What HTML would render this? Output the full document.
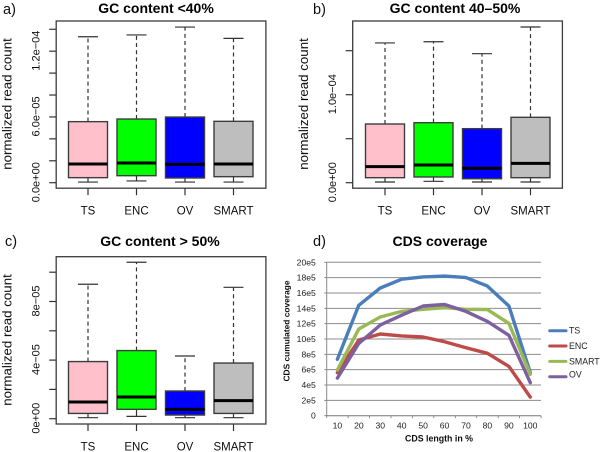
<!DOCTYPE html>
<html lang="en">
<head>
<meta charset="utf-8">
<title>Coverage charts</title>
<style>
html,body{margin:0;padding:0;background:#fff;width:600px;height:452px;overflow:hidden}
svg{display:block;font-family:"Liberation Sans",sans-serif}
</style>
</head>
<body>
<svg id="fig" xmlns="http://www.w3.org/2000/svg" width="600" height="452" viewBox="0 0 600 452">
<defs><filter id="soft" x="0" y="0" width="100%" height="100%"><feGaussianBlur stdDeviation="0.3"/></filter></defs>
</svg>
<script>
// Box-plot data, in units of 1e-5: [lower whisker, Q1, median, Q3, upper whisker]
const categories = ['TS', 'ENC', 'OV', 'SMART'];
const boxColors = ['#ffc0cb', '#00ff00', '#0000ff', '#bebebe'];
const panelAStats = [[0.06, 0.46, 1.71, 5.57, 13.32], [0.16, 0.64, 1.80, 5.81, 13.48], [0.06, 0.43, 1.68, 5.99, 14.20], [0.06, 0.55, 1.71, 5.60, 13.17]];
const panelBStats = [[0.08, 0.57, 1.82, 6.67, 15.88], [0.16, 0.65, 2.01, 6.82, 16.02], [0.08, 0.45, 1.64, 6.14, 14.66], [0.08, 0.57, 2.20, 7.43, 17.69]];
const panelCStats = [[0.07, 0.36, 1.14, 3.90, 9.18], [0.16, 0.64, 1.48, 4.65, 10.68], [0.07, 0.25, 0.64, 1.89, 4.28], [0.07, 0.36, 1.23, 3.80, 8.97]];
const panelATicks = [0, 2, 4, 6, 8, 10, 12, 14];
const panelATickLabels = ['0.0e+00', '', '', '6.0e\u221205', '', '', '1.2e\u221204', ''];
const panelBTicks = [0, 5, 10, 15];
const panelBTickLabels = ['0.0e+00', '', '1.0e\u221204', ''];
const panelCTicks = [0, 2, 4, 6, 8, 10];
const panelCTickLabels = ['0e+00', '', '4e\u221205', '', '8e\u221205', ''];

// Line-chart data, in units of 1e5
const lengthCategories = [10, 20, 30, 40, 50, 60, 70, 80, 90, 100];
const tsCoverage = [7.35, 14.4, 16.65, 17.8, 18.1, 18.2, 18.0, 16.9, 14.3, 5.6];
const encCoverage = [5.6, 9.87, 10.65, 10.4, 10.26, 9.65, 8.87, 8.13, 6.43, 2.43];
const smartCoverage = [5.96, 11.3, 12.87, 13.6, 13.87, 14.08, 13.87, 13.83, 12.04, 5.4];
const ovCoverage = [4.9, 9.43, 11.83, 13.1, 14.3, 14.5, 13.6, 12.3, 10.48, 4.3];
const coverageTicks = [0, 2, 4, 6, 8, 10, 12, 14, 16, 18, 20];
const coverageTickLabels = ['0', '2e5', '4e5', '6e5', '8e5', '10e5', '12e5', '14e5', '16e5', '18e5', '20e5'];

const NS = 'http://www.w3.org/2000/svg';
const fig = document.getElementById('fig');
const root = document.createElementNS(NS, 'g');
root.setAttribute('filter', 'url(#soft)');


fig.appendChild(root);

function make(parent, tag, attrs, text) {
  const el = document.createElementNS(NS, tag);
  for (const k in attrs) el.setAttribute(k, attrs[k]);
  if (text !== undefined) el.textContent = text;
  parent.appendChild(el);
  return el;
}
function label(el, name) {
  
  
  return el;
}

function boxPanel(p) {
  const g = make(root, 'g', {});
  label(g, p.id);
  const ink = '#333';
  const y = v => p.y0 - v * p.unit;
  const x = i => p.xFirst + i * p.xStep;

  label(make(g, 'text', {x: p.tagX, y: p.tagY, 'font-size': 14.5, fill: '#111'}, p.tag), p.id + '-tag');
  label(make(g, 'text', {x: p.titleX, y: p.titleY, 'font-size': 14, 'font-weight': 'bold', 'text-anchor': 'middle', fill: '#000'}, p.title), p.id + '-title');

  p.stats.forEach((s, i) => {
    const cat = categories[i].toLowerCase();
    const b = make(g, 'g', {});
    label(b, p.id + '-box-' + cat);
    make(b, 'line', {x1: x(i), x2: x(i), y1: y(s[3]), y2: y(s[4]), stroke: ink, 'stroke-width': 1.2, 'stroke-dasharray': '4 3.2'});
    make(b, 'line', {x1: x(i), x2: x(i), y1: y(s[1]), y2: y(s[0]), stroke: ink, 'stroke-width': 1.2});
    make(b, 'line', {x1: x(i) - 10, x2: x(i) + 10, y1: y(s[4]), y2: y(s[4]), stroke: ink, 'stroke-width': 1.2});
    make(b, 'line', {x1: x(i) - 10, x2: x(i) + 10, y1: y(s[0]), y2: y(s[0]), stroke: ink, 'stroke-width': 1.2});
    make(b, 'rect', {x: x(i) - 19.5, y: y(s[3]), width: 39, height: y(s[1]) - y(s[3]), fill: boxColors[i], stroke: '#3c3c3c', 'stroke-width': 1.4});
    make(b, 'line', {x1: x(i) - 19.5, x2: x(i) + 19.5, y1: y(s[2]), y2: y(s[2]), stroke: '#000', 'stroke-width': 3});
    make(g, 'line', {x1: x(i), x2: x(i), y1: p.frameBottom, y2: p.frameBottom + 7, stroke: ink, 'stroke-width': 1.2});
    label(make(g, 'text', {x: x(i), y: p.frameBottom + 26.5, 'font-size': 11.5, 'text-anchor': 'middle', fill: '#111'}, categories[i]), p.id + '-label-' + cat);
  });

  const frame = make(g, 'rect', {x: p.frameLeft, y: p.frameTop, width: 209.7, height: p.frameBottom - p.frameTop, fill: 'none', stroke: '#3c3c3c', 'stroke-width': 1.3});
  label(frame, p.id + '-frame');

  p.ticks.forEach((t, i) => {
    make(g, 'line', {x1: p.frameLeft - 7, x2: p.frameLeft, y1: y(t), y2: y(t), stroke: ink, 'stroke-width': 1.2});
    if (p.tickLabels[i]) {
      label(make(g, 'text', {x: 0, y: 0, 'font-size': 11, 'text-anchor': 'middle', fill: '#111', transform: 'translate(' + (p.frameLeft - 16.5) + ' ' + (y(t) - 0.5) + ') rotate(-90)'}, p.tickLabels[i]), p.id + '-y-tick-label');
    }
  });
  label(make(g, 'text', {x: 0, y: 0, 'font-size': 13.3, 'text-anchor': 'middle', fill: '#111', transform: 'translate(' + (p.frameLeft - 44.5) + ' ' + p.yTitleMid + ') rotate(-90)'}, 'normalized read count'), p.id + '-y-axis-title');
}

boxPanel({id: 'panel-a', tag: 'a)', tagX: 3, tagY: 14, title: 'GC content <40%', titleX: 156, titleY: 13, stats: panelAStats, ticks: panelATicks, tickLabels: panelATickLabels, y0: 182.7, unit: 10.96, xFirst: 88, xStep: 48.5, frameLeft: 56.2, frameTop: 21, frameBottom: 188.2, yTitleMid: 104});
boxPanel({id: 'panel-b', tag: 'b)', tagX: 313, tagY: 14, title: 'GC content 40\u201350%', titleX: 455, titleY: 13, stats: panelBStats, ticks: panelBTicks, tickLabels: panelBTickLabels, y0: 182.7, unit: 8.8, xFirst: 385, xStep: 48.5, frameLeft: 352.7, frameTop: 21, frameBottom: 188.2, yTitleMid: 104});
boxPanel({id: 'panel-c', tag: 'c)', tagX: 5, tagY: 246, title: 'GC content > 50%', titleX: 160, titleY: 246, stats: panelCStats, ticks: panelCTicks, tickLabels: panelCTickLabels, y0: 418.7, unit: 14.65, xFirst: 88, xStep: 48.5, frameLeft: 56.2, frameTop: 256.7, frameBottom: 424, yTitleMid: 340});

// Panel d line chart
const d = make(root, 'g', {});
label(d, 'panel-d');
const dLeft = 326.7, dRight = 541, dBase = 415.7, dUnit = 7.67;
const dx = i => dLeft + (dRight - dLeft) * (i + 0.5) / lengthCategories.length;
const dy = v => dBase - v * dUnit;

label(make(d, 'text', {x: 313, y: 246, 'font-size': 14.5, fill: '#111'}, 'd)'), 'panel-d-tag');
label(make(d, 'text', {x: 440, y: 246, 'font-size': 14, 'font-weight': 'bold', 'text-anchor': 'middle', fill: '#000'}, 'CDS coverage'), 'panel-d-title');

coverageTicks.forEach((t, i) => {
  if (t > 0) {
    const grid = make(d, 'line', {x1: dLeft, x2: dRight, y1: dy(t), y2: dy(t), stroke: '#8c8c8c', 'stroke-width': 1});
    label(grid, 'gridline');
  }
  make(d, 'line', {x1: dLeft - 2.5, x2: dLeft, y1: dy(t), y2: dy(t), stroke: '#777', 'stroke-width': 0.8});
  label(make(d, 'text', {x: 315.8, y: dy(t) + 3, 'font-size': 8.6, 'text-anchor': 'end', fill: '#222'}, coverageTickLabels[i]), 'y-tick-label');
});
label(make(d, 'line', {x1: dLeft, x2: dLeft, y1: dy(20), y2: dBase, stroke: '#888', 'stroke-width': 1}), 'y-axis');
label(make(d, 'line', {x1: dLeft, x2: dRight, y1: dBase, y2: dBase, stroke: '#777', 'stroke-width': 1}), 'x-axis');
lengthCategories.forEach((c, i) => {
  make(d, 'line', {x1: dx(i) - (dRight - dLeft) / 20, x2: dx(i) - (dRight - dLeft) / 20, y1: dBase, y2: dBase + 2.5, stroke: '#777', 'stroke-width': 0.8});
  label(make(d, 'text', {x: dx(i), y: 428.7, 'font-size': 8.6, 'text-anchor': 'middle', fill: '#222'}, c), 'x-tick-label');
});
make(d, 'line', {x1: dRight, x2: dRight, y1: dBase, y2: dBase + 2.5, stroke: '#777', 'stroke-width': 0.8});

label(make(d, 'text', {x: 439, y: 441.7, 'font-size': 8.8, 'font-weight': 'bold', 'text-anchor': 'middle', fill: '#111'}, 'CDS length in %'), 'x-axis-title');
label(make(d, 'text', {x: 0, y: 0, 'font-size': 8.4, 'font-weight': 'bold', 'text-anchor': 'middle', fill: '#111', transform: 'translate(289.5 331) rotate(-90)'}, 'CDS cumulated coverage'), 'y-axis-title');

const seriesNames = ['TS', 'ENC', 'SMART', 'OV'];
const seriesValues = [tsCoverage, encCoverage, smartCoverage, ovCoverage];
const seriesColors = ['#4a7ebb', '#be4b48', '#98b954', '#7d60a0'];
const legendTextOffset = [0, 0, 0, -2.5];

seriesNames.forEach((n, s) => {
  const pts = seriesValues[s].map((v, i) => dx(i).toFixed(1) + ',' + dy(v).toFixed(1)).join(' ');
  const line = make(d, 'polyline', {points: pts, fill: 'none', stroke: seriesColors[s], 'stroke-width': 3.4, 'stroke-linejoin': 'round', 'stroke-linecap': 'round'});
  label(line, 'series-' + n.toLowerCase());
  const ly = 330.7 + s * 15.35;
  const key = make(d, 'line', {x1: 549.7, x2: 566, y1: ly, y2: ly, stroke: seriesColors[s], 'stroke-width': 3, 'stroke-linecap': 'round'});
  label(key, 'legend-key-' + n.toLowerCase());
  const entry = make(d, 'text', {x: 569, y: ly + 3 + legendTextOffset[s], 'font-size': 8.8, fill: '#222'}, n);
  label(entry, 'legend-entry-' + n.toLowerCase());
});
</script>
</body>
</html>
